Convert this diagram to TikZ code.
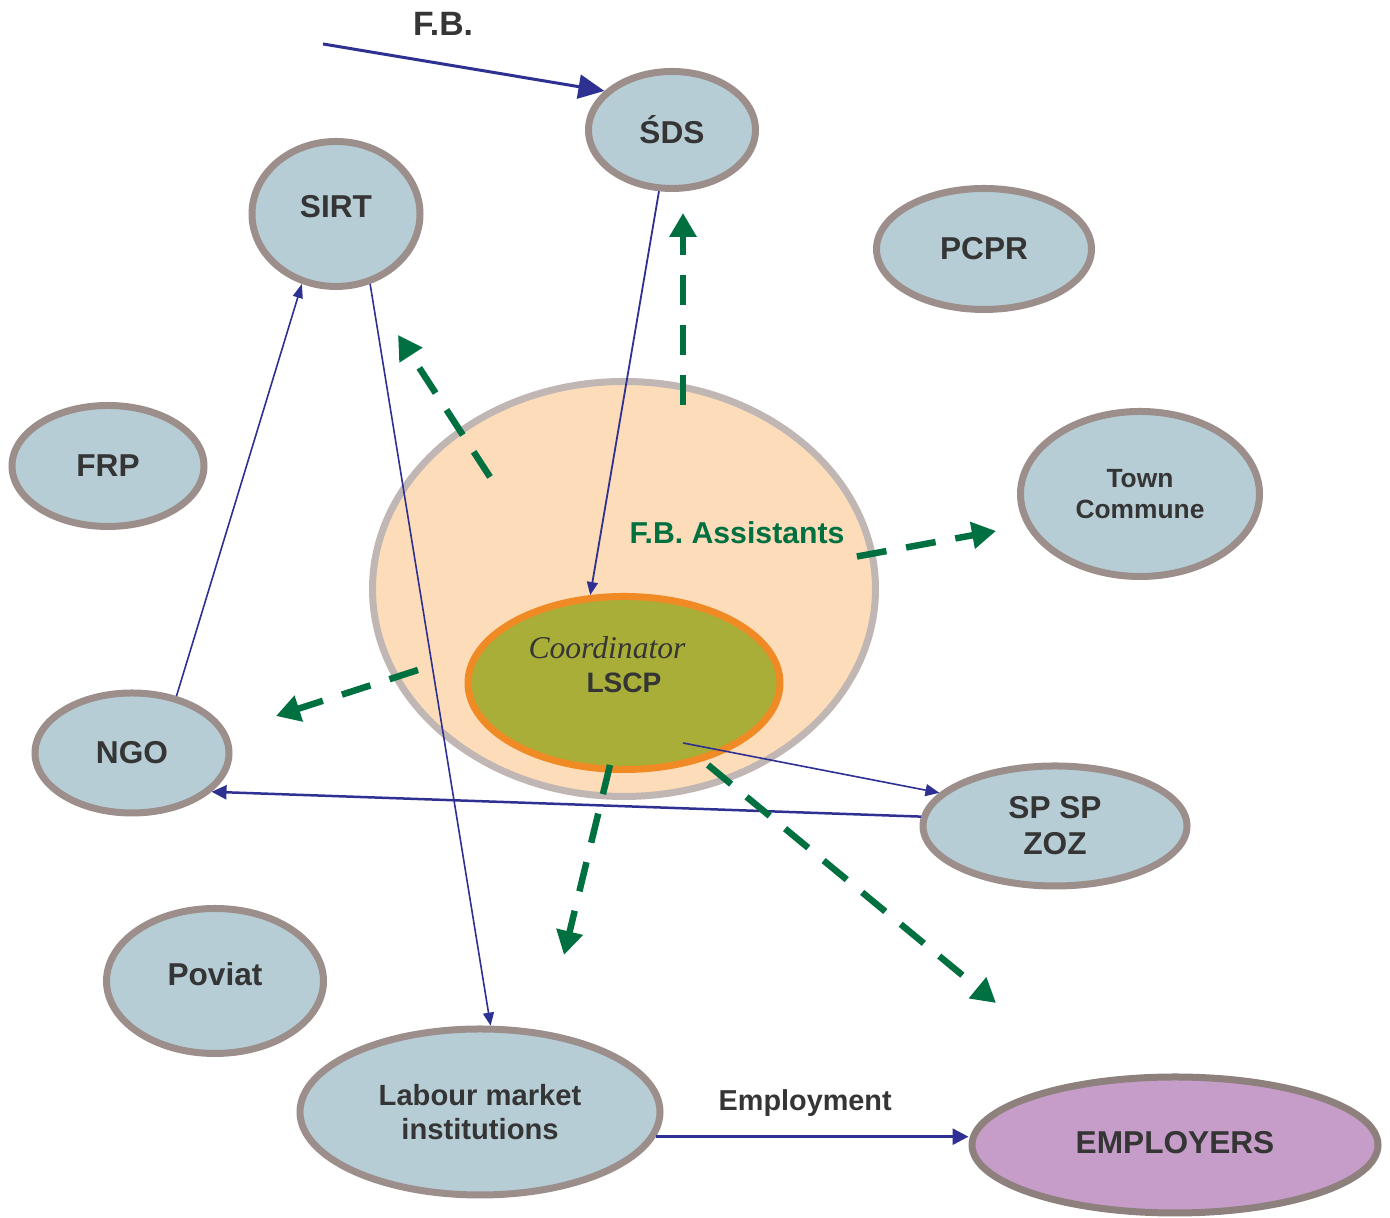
\documentclass[tikz,border=0pt]{standalone}
\usepackage{fontspec}
\setmainfont{Liberation Sans}
\newfontfamily\coordfont{Liberation Serif}
\usetikzlibrary{shapes.geometric,arrows.meta,positioning}

\definecolor{nodefill}{HTML}{B7CDD6}
\definecolor{nodeline}{HTML}{9C8E8A}
\definecolor{flowblue}{HTML}{2E3192}
\definecolor{assistgreen}{HTML}{007040}
\definecolor{textgray}{HTML}{353535}
\definecolor{coordfill}{HTML}{A8AE38}
\definecolor{coordline}{HTML}{F08A24}
\definecolor{teamfill}{HTML}{FDDCBA}
\definecolor{teamline}{HTML}{C0B6B4}
\definecolor{empfill}{HTML}{C59DC8}
\definecolor{empline}{HTML}{8E817D}

\begin{document}
\begin{tikzpicture}[x=0.1mm,y=0.1mm,
  org/.style={ellipse, draw=nodeline, line width=0.7mm, fill=nodefill, inner sep=0pt,
    align=center, text=textgray, font=\bfseries\fontsize{9}{11}\selectfont},
  link/.style={flowblue, line width=0.16mm, -{Triangle[length=1.3mm,width=1.1mm]}},
  assist/.style={assistgreen, line width=0.65mm, dash pattern=on 3mm off 2mm,
    -{Triangle[length=2.4mm,width=2.6mm]}}]
\useasboundingbox (0,0) rectangle (1390,1218);

% team of assistants round the coordinator
\node [ellipse, draw=teamline, line width=0.7mm, fill=teamfill, minimum width=50.3mm, minimum height=41.5mm] (team) at (624,629) {};
\node [ellipse, draw=coordline, line width=0.7mm, fill=coordfill, minimum width=31.2mm, minimum height=17.3mm,
  text=textgray, font=\bfseries\fontsize{8}{10}\selectfont] (coord) at (624,535) {LSCP};
\node [text=textgray, font=\coordfont\itshape\fontsize{9}{11}\selectfont] (coordname) at (607,570) {Coordinator};
\node [text=assistgreen, font=\bfseries\fontsize{8.6}{10}\selectfont] (fbassist) at (737,685) {F.B. Assistants};

% institutions
\node [org, minimum width=16.7mm, minimum height=11.7mm] (sds) at (672,1088) {ŚDS};
\node [org, minimum width=16.8mm, minimum height=14.5mm] (sirt) at (336,1004) {\raisebox{1.6mm}{SIRT}};
\node [org, minimum width=21.5mm, minimum height=12.1mm] (pcpr) at (984,969) {PCPR};
\node [org, minimum width=19.2mm, minimum height=12.1mm] (frp) at (108,752) {FRP};
\node [org, minimum width=23.9mm, minimum height=16.5mm, font=\bfseries\fontsize{7.5}{8.8}\selectfont] (town) at (1140,724) {Town\\Commune};
\node [org, minimum width=19.4mm, minimum height=12.0mm] (ngo) at (132,465) {NGO};
\node [org, minimum width=26.4mm, minimum height=12.0mm, font=\bfseries\fontsize{9}{10.2}\selectfont] (spzoz) at (1055,392) {SP SP\\ZOZ};
\node [org, minimum width=21.7mm, minimum height=14.5mm] (poviat) at (215,237) {\raisebox{1.4mm}{Poviat}};
\node [org, minimum width=36.0mm, minimum height=16.6mm, font=\bfseries\fontsize{8.3}{9.7}\selectfont] (labour) at (480,106) {Labour market\\institutions};
\node [org, draw=empline, fill=empfill, minimum width=40.6mm, minimum height=13.6mm] (employers) at (1175,73) {\raisebox{0.6mm}{EMPLOYERS}};

% financing
\node [text=textgray, font=\bfseries\fontsize{9.6}{11}\selectfont] (fb) at (443,1194) {F.B.};
\coordinate (fbin) at (323,1174);
\draw [flowblue, line width=0.3mm, -{Triangle[length=2.6mm,width=2.4mm]}] (fbin) -- (sds.150);

% flows between institutions
\draw [link, line width=0.18mm] (sds.-102) -- (coord.111);
\draw [link, -{Triangle[length=1.4mm,width=1.0mm]}] (ngo.52) -- (sirt.244);
\draw [link] (sirt.-64) -- (labour.83);
\coordinate (lscpout) at (683,475);
\draw [link, -{Triangle[length=1.4mm,width=1.2mm]}] (lscpout) -- (spzoz.164);
\draw [link, line width=0.25mm, -{Triangle[length=1.5mm,width=1.4mm]}] (spzoz.176) -- (ngo.-26);
\draw [link, line width=0.3mm, -{Triangle[length=1.6mm,width=1.6mm]}] (labour.-8) -- (labour.-8 -| employers.west)
  node [midway, above=2pt, xshift=-0.7mm, text=textgray, font=\bfseries\fontsize{8.2}{10}\selectfont] (employment) {Employment};

% assistants reaching out
\coordinate (upfrom) at (683,813);     \coordinate (upto) at (683,1005);
\coordinate (nwfrom) at (490,741);     \coordinate (nwto) at (398,883);
\coordinate (eastto) at (996,687);
\coordinate (westfrom) at (418,548);   \coordinate (westto) at (276,502);
\coordinate (southfrom) at (610,453);  \coordinate (southto) at (564,263);
\coordinate (sefrom) at (708,453);     \coordinate (seto) at (996,215);
\draw [assist] (upfrom) -- (upto);
\draw [assist] (nwfrom) -- (nwto);
\draw [assist] (fbassist.south east) -- (eastto);
\draw [assist] (westfrom) -- (westto);
\draw [assist] (southfrom) -- (southto);
\draw [assist] (sefrom) -- (seto);
\end{tikzpicture}
\end{document}
